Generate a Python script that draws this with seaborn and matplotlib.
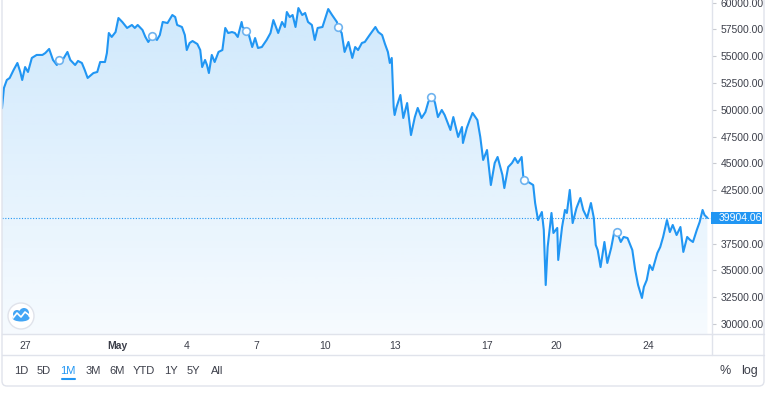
import matplotlib
matplotlib.use("Agg")
import matplotlib.pyplot as plt
import seaborn as sns
import numpy as np
import pandas as pd
from matplotlib.colors import to_rgb
from matplotlib.patches import FancyBboxPatch, Circle, Ellipse, Rectangle
from matplotlib.lines import Line2D
from matplotlib.transforms import IdentityTransform, blended_transform_factory

# hours since Apr 26 00:00 and price
hours = [0, 2, 5, 8, 12, 16, 19, 21, 24, 27, 31, 36, 42, 45, 49, 53, 57, 60, 63, 68, 71,
         76, 79, 83, 86, 89, 95, 99, 102, 107, 109, 111, 114, 118, 121, 125, 130, 135, 138, 141, 146,
         149, 152, 156, 161, 164, 167, 172, 177, 180, 182, 187, 190, 192, 195, 198, 203, 206, 208, 211, 213,
         215, 218, 221, 225, 229, 232, 235, 239, 242, 245, 249, 250, 256, 260, 263, 266, 270, 275, 279, 282,
         285, 287, 291, 294, 296, 299, 302, 305, 308, 312, 315, 318, 322, 325, 328, 333, 336, 339, 343, 348,
         349, 353, 356, 360, 364, 367, 370, 374, 377, 382, 388, 391, 395, 398, 401, 403, 405, 407, 408, 410,
         414, 417, 421, 425, 429, 432, 436, 440, 443, 447, 450, 453, 457, 460, 466, 469, 474, 478, 479, 483,
         486, 489, 494, 497, 500, 504, 508, 512, 515, 520, 522, 526, 530, 533, 536, 540, 542, 547, 552, 554,
         557, 561, 563, 565, 567, 571, 573, 577, 578, 582, 585, 587, 590, 593, 597, 601, 604, 608, 612, 615,
         617, 619, 622, 626, 629, 633, 636, 639, 643, 646, 650, 655, 658, 661, 665, 667, 670, 673, 676, 681,
         684, 687, 691, 694, 697, 701, 705, 708, 712, 715, 718, 722, 725, 728, 730, 733]
prices = [50150, 52030, 52780, 52970, 53710, 54370, 53530, 52780, 53990, 53530, 54840, 55120, 55120, 55300, 55680, 54650, 54180, 54930, 54650, 55400, 54650,
          54180, 54560, 54370, 53710, 52970, 53430, 53530, 54460, 54460, 55300, 57170, 56800, 57260, 58570, 58200, 57640, 57920, 57640, 57920, 57450,
          56800, 56330, 56890, 56520, 56980, 58200, 58100, 58850, 58660, 57920, 57730, 56980, 55580, 56240, 56420, 56140, 55580, 53990, 54650, 54180,
          53430, 55120, 54460, 55400, 55580, 57640, 57170, 57260, 57170, 56800, 58200, 57730, 57170, 55860, 56700, 55770, 55860, 56520, 57170, 58380,
          57640, 57170, 58200, 57730, 59130, 58660, 58850, 57730, 59500, 58850, 59040, 58200, 57920, 56520, 57640, 57730, 58570, 59410, 58850, 58200,
          57730, 57170, 55400, 56330, 54840, 55860, 55580, 56240, 56330, 56980, 57730, 57260, 56980, 56140, 55400, 54370, 54840, 50260, 49510, 50260,
          51380, 49230, 50630, 47640, 49320, 50170, 49230, 49790, 50730, 51380, 50630, 49320, 49980, 49510, 48110, 49320, 47460, 48390, 46900, 48300,
          49040, 49700, 49040, 47460, 45310, 46240, 42970, 45030, 45590, 43910, 42690, 44650, 45030, 45500, 45030, 45590, 43440, 43250, 42970, 41290,
          39700, 40450, 38770, 33630, 37180, 40360, 38490, 38960, 35970, 39050, 40640, 40360, 42510, 39420, 40830, 41760, 40640, 39890, 41290, 39890,
          37370, 36900, 35310, 37650, 35690, 37090, 38490, 38580, 37650, 38120, 38020, 36900, 35030, 33630, 32420, 33450, 34100, 35500, 35030, 36620,
          37180, 38120, 39700, 38580, 39240, 38300, 39050, 36720, 38120, 37840, 37650, 38770, 39520, 40640, 40170, 39904.06]
event_hours = [59, 156, 254, 349, 446, 542, 639]
tick_hours = [24, 120, 192, 264, 336, 408, 504, 576, 672]
tick_labels = ["27", "May", "4", "7", "10", "13", "17", "20", "24"]
# 40000 is hidden behind the last-price tag
price_ticks = [30000, 32500, 35000, 37500, 42500, 45000, 47500, 50000, 52500, 55000, 57500, 60000]
ranges = ["1D", "5D", "1M", "3M", "6M", "YTD", "1Y", "5Y", "All"]
range_x = [21, 44, 68, 93, 117, 144, 171, 193, 217]
last_price = prices[-1]

BLUE = "#2196F3"
TXT = "#3c3f4a"
LINE = "#e0e3eb"

sns.set_theme(style="white")
plt.rcParams["font.family"] = ["Liberation Sans", "DejaVu Sans"]

W, H = 768, 396
fig = plt.figure(figsize=(W / 100, H / 100), dpi=100)
fig.patch.set_facecolor("white")


def fx(px):
    return px / W


def fy(py):
    return 1 - py / H


ax = fig.add_axes([fx(2), fy(334), 710 / W, 334 / H])
ax.set_facecolor("none")

xlim = (0.0, 737.8)
ylim = (29056, 60252)

df = pd.DataFrame({"hours": hours, "price": prices})
sns.lineplot(data=df, x="hours", y="price", ax=ax, color=BLUE, lw=1.5, zorder=4)

# gradient area under the line
poly = ax.fill_between(df["hours"], df["price"], ylim[0], color="none", lw=0)
alpha = np.linspace(0.22, 0.04, 256)
rgba = np.zeros((256, 1, 4))
rgba[..., :3] = to_rgb(BLUE)
rgba[:, 0, 3] = alpha
img = ax.imshow(rgba, extent=[xlim[0], xlim[1], ylim[0], ylim[1]], aspect="auto",
                origin="upper", zorder=1, interpolation="bilinear")
img.set_clip_path(poly.get_paths()[0], transform=ax.transData)

# event markers
ev = pd.DataFrame({"hours": event_hours, "price": np.interp(event_hours, hours, prices)})
sns.scatterplot(data=ev, x="hours", y="price", ax=ax, s=30, color="white",
                edgecolor="#6fb3ef", linewidth=1.2, zorder=5)

ax.axhline(last_price, color=BLUE, ls=(0, (1, 1.5)), lw=0.8, zorder=3)

ax.set_xlim(*xlim)
ax.set_ylim(*ylim)
ax.set_xlabel("")
ax.set_ylabel("")

ax.set_xticks(tick_hours)
ax.set_xticklabels(tick_labels)
for t in ax.get_xticklabels():
    if t.get_text() == "May":
        t.set_fontweight("bold")
ax.yaxis.tick_right()
ax.set_yticks(price_ticks)
ax.set_yticklabels([f"{v:.2f}" for v in price_ticks])
ax.tick_params(axis="x", length=3, width=0.8, color="#c8cad0", labelsize=7.5, labelcolor=TXT, pad=2)
ax.tick_params(axis="y", length=3, width=0.8, color="#c8cad0", labelsize=7.5, labelcolor=TXT, pad=3, right=True, left=False)

for s in ["top", "left"]:
    ax.spines[s].set_visible(False)
for s in ["right", "bottom"]:
    ax.spines[s].set_color(LINE)
    ax.spines[s].set_linewidth(1)

# last price tag
blend = blended_transform_factory(ax.transAxes, ax.transData)
ax.add_patch(Rectangle((1.0 - 1 / 710, last_price - 560), 51 / 710, 1120, transform=blend,
                       fc=BLUE, ec="none", clip_on=False, zorder=6))
ax.text(1 + 7 / 710, last_price, f"{last_price:.2f}", transform=blend, ha="left", va="center",
        color="white", fontsize=7.5, clip_on=False, zorder=7)

# frame lines
fig.add_artist(Line2D([fx(2), fx(764)], [fy(355), fy(355)], color=LINE, lw=1))
fig.add_artist(Line2D([fx(712), fx(712)], [fy(334), fy(355)], color=LINE, lw=1))
fig.add_artist(Line2D([fx(712), fx(764)], [fy(334), fy(334)], color=LINE, lw=1))
fig.add_artist(FancyBboxPatch((2, H - 386), 762, 400, boxstyle="round,pad=0,rounding_size=5",
                              transform=IdentityTransform(), fc="none", ec=LINE, lw=1))

# toolbar
for lab, x in zip(ranges, range_x):
    fig.text(fx(x), fy(371), lab, ha="center", va="center", fontsize=8,
             color=BLUE if lab == "1M" else TXT)
fig.add_artist(Line2D([fx(62), fx(75)], [fy(379), fy(379)], color=BLUE, lw=1.5))
fig.text(fx(725), fy(371), "%", ha="center", va="center", fontsize=9, color=TXT)
fig.text(fx(749), fy(371), "log", ha="center", va="center", fontsize=9, color=TXT)

# logo
fig.add_artist(Circle((21, H - 316), 13, transform=IdentityTransform(), fc="white", ec=LINE, lw=1, zorder=6))
fig.add_artist(Ellipse((21, H - 318), 17, 7, transform=IdentityTransform(), fc="#42a5f5", ec="none", zorder=7))
fig.add_artist(Circle((17, H - 314), 4, transform=IdentityTransform(), fc="#42a5f5", ec="none", zorder=7))
fig.add_artist(Circle((24, H - 313), 5, transform=IdentityTransform(), fc="#42a5f5", ec="none", zorder=7))
fig.add_artist(Line2D(np.array([13, 17, 21, 25, 29]) / W, 1 - np.array([318, 313, 317, 312, 315]) / H,
                      color="white", lw=1.2, zorder=8))

fig.savefig("out.png", dpi=100)
